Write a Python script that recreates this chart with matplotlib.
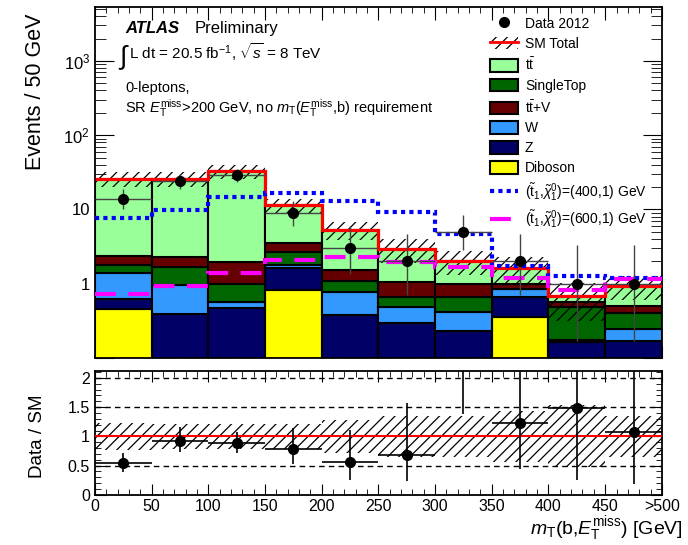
import numpy as np
import matplotlib
matplotlib.use('Agg')
import matplotlib.pyplot as plt
from matplotlib.patches import Patch
from matplotlib.lines import Line2D
from matplotlib.ticker import FixedLocator, MultipleLocator, LogLocator, FuncFormatter, NullFormatter

plt.rcParams['font.family'] = ['Liberation Sans', 'DejaVu Sans']
plt.rcParams['mathtext.fontset'] = 'custom'
plt.rcParams['mathtext.rm'] = 'Liberation Sans'
plt.rcParams['mathtext.it'] = 'Liberation Sans:italic'
plt.rcParams['mathtext.bf'] = 'Liberation Sans:bold'
plt.rcParams['hatch.linewidth'] = 0.9

# binning in mT(b, MET), last bin is overflow
bin_edges = [0, 50, 100, 150, 200, 250, 300, 350, 400, 450, 500]

# backgrounds (events / 50 GeV)
diboson = [0.453, 0.04, 0.04, 0.83, 0.03, 0.03, 0.02, 0.358, 0.01, 0.01]
zjets = [0.177, 0.357, 0.433, 0.79, 0.346, 0.268, 0.21, 0.306, 0.156, 0.159]
wjets = [0.77, 0.552, 0.096, 0.18, 0.40, 0.19, 0.19, 0.175, 0.01, 0.08]
singletop = [0.40, 0.75, 0.43, 0.91, 0.33, 0.176, 0.25, 0.02, 0.31, 0.15]
ttv = [0.59, 0.58, 0.95, 0.83, 0.43, 0.39, 0.31, 0.14, 0.09, 0.10]
ttbar = [23.6, 23.7, 30.95, 7.86, 3.79, 1.89, 1.07, 0.62, 0.10, 0.435]

# relative total uncertainty on SM
sm_unc = [0.23, 0.22, 0.22, 0.22, 0.28, 0.35, 0.35, 0.43, 0.53, 0.35]

# data 2012 with poisson errors
data = [14, 24, 29, 9, 3, 2, 5, 2, 1, 1]
data_err_lo = [3.70, 4.86, 5.36, 2.94, 1.63, 1.29, 2.16, 1.29, 0.83, 0.83]
data_err_hi = [4.80, 5.95, 6.44, 4.11, 2.92, 2.64, 3.38, 2.64, 2.30, 2.30]

# signal points
sig_400_1 = [7.65, 9.88, 14.5, 16.5, 13.0, 9.29, 4.67, 1.74, 1.29, 1.20]
sig_600_1 = [0.72, 0.93, 1.40, 2.11, 2.28, 1.95, 1.67, 1.19, 0.83, 1.17]

xtick_labels = ['0', '50', '100', '150', '200', '250', '300', '350', '400', '450', '>500']

edges = np.array(bin_edges, dtype=float)
centers = 0.5 * (edges[:-1] + edges[1:])
width = np.diff(edges)

stack = [
    (diboson, '#ffff00'),
    (zjets, '#000066'),
    (wjets, '#3399ff'),
    (singletop, '#006600'),
    (ttv, '#660000'),
    (ttbar, '#99ff99'),
]

fig = plt.figure(figsize=(6.88, 5.45), dpi=100)
ax = fig.add_axes([0.138, 0.343, 0.824, 0.644])
rax = fig.add_axes([0.138, 0.092, 0.824, 0.2275])

ax.set_yscale('log')
bottom = np.full(len(centers), 1e-4)
for vals, col in stack:
    v = np.array(vals)
    ax.bar(centers, v, width=width, bottom=bottom, color=col, edgecolor='black', linewidth=1.5, zorder=2)
    bottom = bottom + v
total = bottom - 1e-4
unc = np.array(sm_unc)

ax.bar(centers, 2 * unc * total, width=width, bottom=total * (1 - unc), fill=False,
       hatch='///', edgecolor='black', linewidth=0, zorder=3)
ax.stairs(total, edges, baseline=None, color='red', linewidth=2.3, zorder=4)
ax.stairs(sig_400_1, edges, baseline=None, color='#0000ff', linewidth=3, linestyle=(0, (1, 1)), zorder=5)
ax.stairs(sig_600_1, edges, baseline=None, color='#ff00ff', linewidth=3, linestyle=(0, (5, 3)), zorder=5)

d = np.array(data, dtype=float)
ax.errorbar(centers, d, xerr=width / 2, yerr=[data_err_lo, data_err_hi], fmt='o', color='black',
            ms=7, elinewidth=1, ecolor='#444444', capsize=0, zorder=6)

ax.set_xlim(0, 500)
ax.set_ylim(0.1, 5300)
ax.yaxis.set_major_locator(LogLocator(base=10, numticks=10))
ax.yaxis.set_minor_locator(LogLocator(base=10, subs=np.arange(2, 10), numticks=20))


def log_fmt(v, pos):
    if v == 1:
        return '1'
    if v == 10:
        return '10'
    if v > 10:
        return r'$10^{%d}$' % round(np.log10(v))
    return ''


ax.yaxis.set_major_formatter(FuncFormatter(log_fmt))
ax.yaxis.set_minor_formatter(NullFormatter())
ax.xaxis.set_major_locator(MultipleLocator(50))
ax.xaxis.set_minor_locator(MultipleLocator(10))
ax.set_xticklabels([])
ax.tick_params(which='both', direction='in', top=True, right=True, labelsize=12)
ax.tick_params(axis='y', which='major', length=14)
ax.tick_params(axis='y', which='minor', length=8)
ax.tick_params(axis='x', which='major', length=9)
ax.tick_params(axis='x', which='minor', length=4)
for s in ax.spines.values():
    s.set_linewidth(1.3)

# labels
ax.text(0.053, 0.926, 'ATLAS', transform=ax.transAxes, fontsize=12, fontweight='bold', fontstyle='italic')
ax.text(0.176, 0.926, 'Preliminary', transform=ax.transAxes, fontsize=12)
ax.text(0.040, 0.838, r'$\int$', transform=ax.transAxes, fontsize=19, family='DejaVu Sans')
ax.text(0.060, 0.852, r'L dt = 20.5 fb$^{-1}$, $\sqrt{s}$ = 8 TeV', transform=ax.transAxes, fontsize=11)
ax.text(0.053, 0.758, '0-leptons,', transform=ax.transAxes, fontsize=10.5)
ax.text(0.053, 0.700, r'SR $E_{\mathrm{T}}^{\mathrm{miss}}$>200 GeV, no $m_{\mathrm{T}}$($E_{\mathrm{T}}^{\mathrm{miss}}$,b) requirement',
        transform=ax.transAxes, fontsize=10.5)

handles = [
    Line2D([], [], marker='o', color='black', ls='none', ms=7),
    (Patch(facecolor='none', hatch='///', edgecolor='black', linewidth=0), Line2D([], [], color='red', lw=2)),
    Patch(facecolor='#99ff99', edgecolor='black', linewidth=1.5),
    Patch(facecolor='#006600', edgecolor='black', linewidth=1.5),
    Patch(facecolor='#660000', edgecolor='black', linewidth=1.5),
    Patch(facecolor='#3399ff', edgecolor='black', linewidth=1.5),
    Patch(facecolor='#000066', edgecolor='black', linewidth=1.5),
    Patch(facecolor='#ffff00', edgecolor='black', linewidth=1.5),
    Line2D([], [], color='#0000ff', lw=3, ls=(0, (1, 1))),
    Line2D([], [], color='#ff00ff', lw=3, ls=(0, (5, 3))),
]
labels = ['Data 2012', 'SM Total', r't$\bar{\mathrm{t}}$', 'SingleTop', r't$\bar{\mathrm{t}}$+V', 'W', 'Z', 'Diboson',
          r'($\tilde{\mathrm{t}}_1$,$\tilde{\chi}_1^0$)=(400,1) GeV',
          r'($\tilde{\mathrm{t}}_1$,$\tilde{\chi}_1^0$)=(600,1) GeV']
ax.legend(handles, labels, loc='upper left', bbox_to_anchor=(0.68, 1.0), frameon=False, fontsize=10,
          handlelength=2.0, handleheight=1.0, labelspacing=0.42, borderaxespad=0.3, handletextpad=0.5)

# ratio panel
ratio = d / total
rax.bar(centers, 2 * unc, width=width, bottom=1 - unc, fill=False, hatch='///', edgecolor='black', linewidth=0, zorder=2)
for yv in [0.5, 1.5, 2.0]:
    rax.axhline(yv, color='black', ls=(0, (4, 3)), lw=1, zorder=1)
rax.axhline(1.0, color='red', lw=1.5, zorder=3)
rax.errorbar(centers, ratio, xerr=width / 2,
             yerr=[np.array(data_err_lo) / total, np.array(data_err_hi) / total],
             fmt='o', color='black', ms=7, elinewidth=1.2, capsize=0, zorder=4)
rax.set_xlim(0, 500)
rax.set_ylim(0, 2.12)
rax.xaxis.set_major_locator(FixedLocator(edges))
rax.set_xticklabels(xtick_labels)
rax.xaxis.set_minor_locator(MultipleLocator(10))
rax.yaxis.set_major_locator(FixedLocator([0, 0.5, 1, 1.5, 2]))
rax.set_yticklabels(['0', '0.5', '1', '1.5', '2'])
rax.yaxis.set_minor_locator(MultipleLocator(0.1))
rax.tick_params(which='both', direction='in', top=True, right=True, labelsize=11.5)
rax.tick_params(which='major', length=8)
rax.tick_params(which='minor', length=4)
rax.tick_params(axis='x', pad=3)
for s in rax.spines.values():
    s.set_linewidth(1.3)

fig.text(0.052, 0.975, 'Events / 50 GeV', rotation=90, ha='center', va='top', fontsize=15.5)
fig.text(0.055, 0.2, 'Data / SM', rotation=90, ha='center', va='center', fontsize=13.5)
fig.text(0.993, 0.004, r'$m_{\mathrm{T}}$(b,$E_{\mathrm{T}}^{\mathrm{miss}}$) [GeV]', ha='right', va='bottom', fontsize=14)

fig.savefig('out.png', dpi=100)
